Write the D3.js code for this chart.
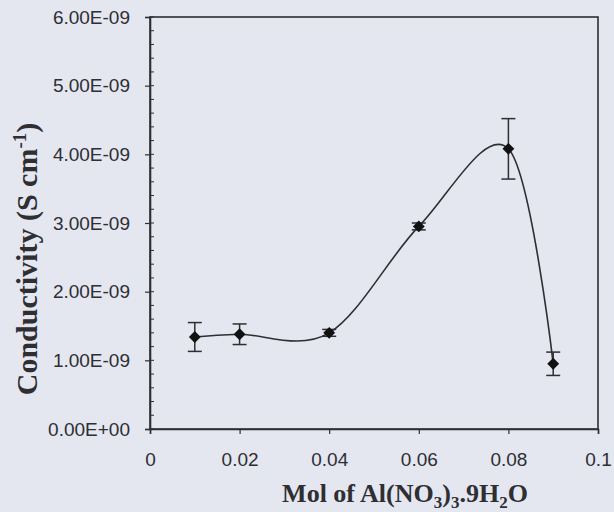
<!DOCTYPE html>
<html>
<head>
<meta charset="utf-8">
<script src="https://cdn.jsdelivr.net/npm/d3@7"></script>
<style>
  body { margin: 0; background: #e4e6f0; }
  svg { display: block; }
</style>
</head>
<body>
<svg width="614" height="512"></svg>
<script>
// values
const molFraction = [0.01, 0.02, 0.04, 0.06, 0.08, 0.09];
const conductivity = [1.34e-9, 1.38e-9, 1.40e-9, 2.95e-9, 4.08e-9, 0.95e-9];
const errors = [0.21e-9, 0.15e-9, 0.05e-9, 0.05e-9, 0.44e-9, 0.17e-9];
const xTicks = [0, 0.02, 0.04, 0.06, 0.08, 0.1];
const yTicks = [0, 1e-9, 2e-9, 3e-9, 4e-9, 5e-9, 6e-9];

const ink = "#2e2e33";
const svg = d3.select("svg");

const x = d3.scaleLinear().domain([0, 0.1]).range([150, 598]);
const y = d3.scaleLinear().domain([0, 6e-9]).range([429, 17]);

const points = molFraction.map((m, i) => ({ m, c: conductivity[i], e: errors[i] }));

// frame
svg.append("rect")
  .attr("x", x(0)).attr("y", y(6e-9))
  .attr("width", x(0.1) - x(0)).attr("height", y(0) - y(6e-9))
  .attr("fill", "none").attr("stroke", ink).attr("stroke-width", 1.6);

// minor y ticks (inside)
const minor = d3.range(0, 6e-9 + 1e-12, 0.2e-9);
svg.append("g").selectAll("line").data(minor).join("line")
  .attr("x1", x(0)).attr("x2", x(0) + 4)
  .attr("y1", d => y(d)).attr("y2", d => y(d))
  .attr("stroke", ink).attr("stroke-width", 1);

const xAxis = svg.append("g")
  .attr("transform", `translate(0,${y(0)})`)
  .call(d3.axisBottom(x).tickValues(xTicks).tickFormat(d3.format("")).tickSize(5).tickPadding(19));

const yAxis = svg.append("g")
  .attr("transform", `translate(${x(0)},0)`)
  .call(d3.axisLeft(y).tickValues(yTicks)
    .tickFormat(d => d3.format(".2e")(d).replace("e-9", "E-09").replace("e+0", "E+00"))
    .tickSize(5).tickPadding(15));

[xAxis, yAxis].forEach(g => {
  g.select(".domain").attr("stroke", ink).attr("stroke-width", 1.6);
  g.selectAll(".tick line").attr("stroke", ink).attr("stroke-width", 1.2);
  g.selectAll("text").attr("fill", ink)
    .style("font-family", "'Liberation Sans', Arial, sans-serif").style("font-size", "19px");
});

// smoothed curve
const line = d3.line().x(d => x(d.m)).y(d => y(d.c)).curve(d3.curveCardinal.tension(0));
svg.append("path").datum(points)
  .attr("d", line).attr("fill", "none").attr("stroke", ink).attr("stroke-width", 1.6);

// error bars
const eb = svg.append("g").attr("stroke", ink).attr("stroke-width", 1.5);
eb.selectAll(".v").data(points).join("line")
  .attr("x1", d => x(d.m)).attr("x2", d => x(d.m))
  .attr("y1", d => y(d.c + d.e)).attr("y2", d => y(d.c - d.e));
eb.selectAll(".t").data(points.flatMap(d => [d.c + d.e, d.c - d.e].map(v => ({ m: d.m, v })))).join("line")
  .attr("x1", d => x(d.m) - 7).attr("x2", d => x(d.m) + 7)
  .attr("y1", d => y(d.v)).attr("y2", d => y(d.v));

// diamond markers
svg.append("g").selectAll("path").data(points).join("path")
  .attr("d", d3.symbol().type(d3.symbolSquare).size(70))
  .attr("transform", d => `translate(${x(d.m)},${y(d.c)}) rotate(45)`)
  .attr("fill", "#111");

// axis titles
const yTitle = svg.append("text")
  .attr("transform", "translate(37,259) rotate(-90)")
  .attr("text-anchor", "middle")
  .attr("fill", ink)
  .style("font-family", "'Liberation Serif', 'Times New Roman', serif")
  .style("font-weight", "bold").style("font-size", "30px");
yTitle.append("tspan").text("Conductivity (S cm");
yTitle.append("tspan").attr("dy", -11).style("font-size", "19px").text("-1");
yTitle.append("tspan").attr("dy", 11).text(")");

const xTitle = svg.append("text")
  .attr("x", 405).attr("y", 502)
  .attr("text-anchor", "middle")
  .attr("fill", ink)
  .style("font-family", "'Liberation Serif', 'Times New Roman', serif")
  .style("font-weight", "bold").style("font-size", "26px");
const parts = [["Mol of Al(NO", 0], ["3", 1], [")", 0], ["3", 1], [".9H", 0], ["2", 1], ["O", 0]];
let prev = 0;
parts.forEach(([t, sub]) => {
  const shift = sub ? 6 : 0;
  xTitle.append("tspan").attr("dy", shift - prev)
    .style("font-size", sub ? "17px" : "26px").text(t);
  prev = shift;
});
</script>
</body>
</html>
